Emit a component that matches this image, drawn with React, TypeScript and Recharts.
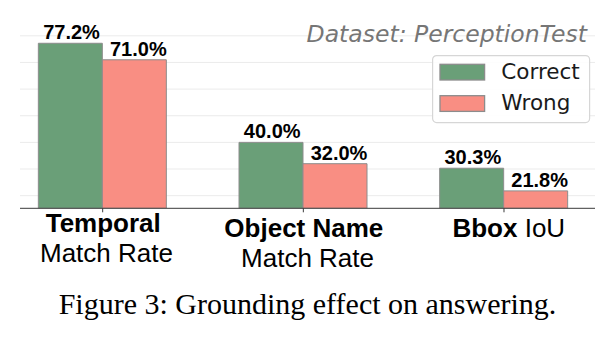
import React from 'react';
import { BarChart, Bar, XAxis, YAxis, CartesianGrid, LabelList, Legend } from 'recharts';

// ---- data ----
const categories = ['Temporal Match Rate', 'Object Name Match Rate', 'Bbox IoU'];
const labelBold = ['Temporal', 'Object Name', 'Bbox'];
const labelRest = ['Match Rate', 'Match Rate', 'IoU'];
const restOnNewLine = [true, true, false];
const correctValues = [77.2, 40.0, 30.3];
const wrongValues = [71.0, 32.0, 21.8];
const seriesNames = ['Correct', 'Wrong'];
const gridValues = [20, 30, 40, 50, 60, 70, 80];
const xTicks = [0, 1, 2];
const yDomain = [15.26, 84.92];
const xDomain = [-0.412, 2.4535];
const titleText = 'Dataset: PerceptionTest';
const captionText = 'Figure 3: Grounding effect on answering.';

const data = categories.map((name, i) => ({
  x: i,
  name,
  correct: correctValues[i],
  wrong: wrongValues[i],
}));

// ---- styles ----
const GREEN = '#6a9f78';
const RED = '#f98e83';
const EDGE = '#8c8c8c';
const SANS = '"Liberation Sans", Arial, Helvetica, sans-serif';
const DEJAVU = '"DejaVu Sans", sans-serif';
const tickBaselineShift = [0, 4.4, 4.4];
const tickCenterShift = [0.6, 0.5, 4.8];
const restCenterShift = [3.8, 4.2, 0];

const CategoryTick = (props: any) => {
  const { x, y, payload } = props;
  const i = Math.round(payload.value);
  if (i < 0 || i >= labelBold.length) return null;
  const base = y + 20 + tickBaselineShift[i];
  if (!restOnNewLine[i]) {
    return (
      <text x={x + tickCenterShift[i]} y={base} textAnchor="middle" fontFamily={SANS} fontSize={26} fill="#000" style={{ whiteSpace: 'pre' }}>
        <tspan fontWeight="bold">{labelBold[i]}</tspan>
        <tspan>{' ' + labelRest[i]}</tspan>
      </text>
    );
  }
  return (
    <g>
      <text x={x + tickCenterShift[i]} y={base} textAnchor="middle" fontFamily={SANS} fontSize={26} fontWeight="bold" fill="#000">
        {labelBold[i]}
      </text>
      <text x={x + restCenterShift[i]} y={base + 30} textAnchor="middle" fontFamily={SANS} fontSize={26} fill="#000">
        {labelRest[i]}
      </text>
    </g>
  );
};

const makeValueLabel = (dx: number) => (p: any) => {
  const { x, y, width, value } = p;
  return (
    <text x={x + width / 2 + dx} y={y - 4} textAnchor="middle" fontFamily={SANS} fontSize={20} fontWeight="bold" fill="#000">
      {Number(value).toFixed(1) + '%'}
    </text>
  );
};

const colors = [GREEN, RED];

const renderLegend = () => (
  <svg width={159} height={69} style={{ display: 'block' }}>
    <rect x={0.6} y={0.6} width={157} height={67} rx={4} ry={4} fill="rgba(255,255,255,0.9)" stroke="#d6d6d6" strokeWidth={1.2} />
    {seriesNames.map((n, i) => (
      <g key={n}>
        <rect x={8} y={9.3 + i * 31.4} width={44.6} height={15.7} fill={colors[i]} stroke={EDGE} strokeWidth={1.3} />
        <text x={69.3} y={24 + i * 31.2} fontFamily={DEJAVU} fontSize={21.5} fill="#1a1a1a">
          {n}
        </text>
      </g>
    ))}
  </svg>
);

export default function App() {
  return (
    <div style={{ position: 'absolute', left: 0, top: 0, width: 614, height: 340, background: '#fff' }}>
      <BarChart
        width={614}
        height={340}
        data={data}
        margin={{ top: 22.7, right: 19, bottom: 101.7, left: 20 }}
        barGap={0}
      >
        <CartesianGrid horizontal vertical={false} horizontalValues={gridValues} stroke="#ebebeb" strokeWidth={1} />
        <XAxis
          type="number"
          dataKey="x"
          domain={xDomain}
          allowDataOverflow
          ticks={xTicks}
          interval={0}
          height={30}
          tickSize={4}
          tickMargin={0}
          stroke="#3a3a3a"
          tickLine={{ stroke: '#3a3a3a' }}
          tick={<CategoryTick />}
        />
        <YAxis type="number" domain={yDomain} allowDataOverflow hide ticks={gridValues} />
        <Legend
          align="center"
          verticalAlign="middle"
          layout="vertical"
          wrapperStyle={{ left: 432, top: 54.5, width: 159, height: 69, bottom: 'auto', right: 'auto' }}
          content={renderLegend}
        />
        <Bar dataKey="correct" name={seriesNames[0]} fill={GREEN} stroke={EDGE} strokeWidth={1} barSize={64} isAnimationActive={false}>
          <LabelList dataKey="correct" content={makeValueLabel(1.2)} />
        </Bar>
        <Bar dataKey="wrong" name={seriesNames[1]} fill={RED} stroke={EDGE} strokeWidth={1} barSize={64} isAnimationActive={false}>
          <LabelList dataKey="wrong" content={makeValueLabel(4)} />
        </Bar>
      </BarChart>
      <svg width={614} height={340} style={{ position: 'absolute', left: 0, top: 0, pointerEvents: 'none' }}>
        <text x={587} y={41.5} textAnchor="end" fontFamily={DEJAVU} fontStyle="italic" fontSize={23.5} fill="#767676">
          {titleText}
        </text>
        <text x={307.5} y={314} textAnchor="middle" fontFamily='"Liberation Serif", "Times New Roman", serif' fontSize={30} fill="#000">
          {captionText}
        </text>
      </svg>
    </div>
  );
}
